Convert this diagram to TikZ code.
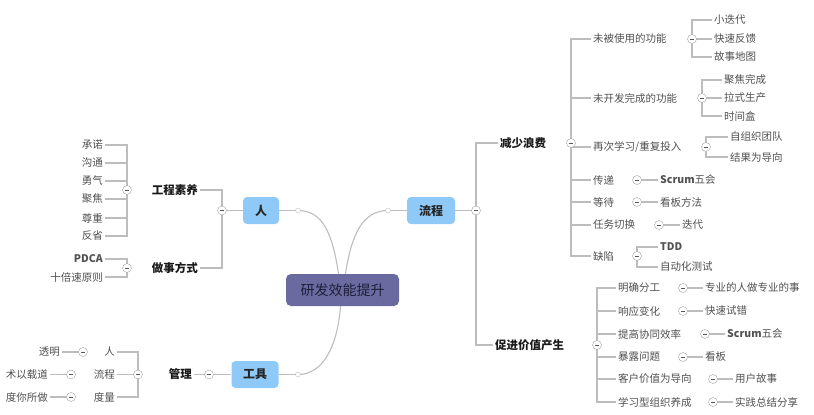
\documentclass[tikz,border=0pt]{standalone}
\usepackage{fontspec}
\setmainfont{Noto Sans CJK SC}
\pgfdeclarelayer{background}
\pgfsetlayers{background,main}
\definecolor{lg}{HTML}{BDBDBD}
\definecolor{leaftxt}{HTML}{505050}
\definecolor{boxblue}{HTML}{8FC9F7}
\definecolor{ctrpurple}{HTML}{6B6AA0}
\definecolor{ctrtxt}{HTML}{1E1E3A}
\definecolor{colgray}{HTML}{A0A0A0}
\begin{document}
\begin{tikzpicture}[x=1pt,y=-1pt,
  leaf/.style={font=\fontsize{10.5}{12}\selectfont, text=leaftxt, inner sep=2pt},
  lv/.style={font=\fontsize{11.5}{13}\selectfont\bfseries, text=black!90, inner sep=2pt},
  topic/.style={fill=boxblue, rounded corners=4pt, minimum height=27pt, inner sep=0pt,
    font=\fontsize{12}{14}\selectfont\bfseries, text=black!85},
  col/.style={circle, draw=colgray, fill=white, minimum size=9pt, inner sep=0pt,
    path picture={\draw[black!65, line width=0.8pt]
      ([xshift=-2.2pt]path picture bounding box.center) --
      ([xshift=2.2pt]path picture bounding box.center);}},
  dotc/.style={circle, draw=lg, fill=white, minimum size=5pt, inner sep=0pt},
  con/.style={draw=lg, line width=1.1pt}
]
\useasboundingbox (0,0) rectangle (814,415);

% central and main topics
\node[fill=ctrpurple, rounded corners=5pt, minimum width=113pt, minimum height=32pt,
  font=\fontsize{14}{16}\selectfont, text=ctrtxt] (ctr) at (342.5,290) {研发效能提升};
\node[topic, minimum width=36pt] (ren) at (261,210.5) {人};
\node[topic, minimum width=48pt] (liu) at (431,210.5) {流程};
\node[topic, minimum width=47pt] (gj) at (255,374.5) {工具};
\node[dotc] (dR) at (298,210.5) {};
\node[dotc] (dL) at (388,210.5) {};
\node[dotc] (dG) at (298,374.5) {};

% ===== 人 =====
\node[col] (renc) at (222,210.5) {};
\node[lv, anchor=east] (gcsy) at (200,190) {工程素养};
\node[lv, anchor=east] (zsfs) at (200,268) {做事方式};
\node[col] (gcsyc) at (127,190) {};
\node[leaf, anchor=east] (cn) at (105,145) {承诺};
\node[leaf, anchor=east] (gt) at (105,163) {沟通};
\node[leaf, anchor=east] (yq) at (105,181) {勇气};
\node[leaf, anchor=east] (jj) at (105,199) {聚焦};
\node[leaf, anchor=east] (zz) at (105,218) {尊重};
\node[leaf, anchor=east] (fx) at (105,236) {反省};
\node[col] (zsfsc) at (127,268) {};
\node[leaf, anchor=east] (pdca) at (105,259) {\bfseries PDCA};
\node[leaf, anchor=east] (sbs) at (105,277) {十倍速原则};

% ===== 工具 =====
\node[col] (gjc) at (209,374.5) {};
\node[lv, anchor=east] (gl) at (194,374.5) {管理};
\node[col] (glc) at (138,374.5) {};
\node[leaf, anchor=east] (gr) at (117,352) {人};
\node[leaf, anchor=east] (glc2) at (117,374.5) {流程};
\node[leaf, anchor=east] (gd) at (117,397) {度量};
\node[col] (grc) at (83,352) {};
\node[col] (glcc) at (71,374.5) {};
\node[col] (gdc) at (71,397) {};
\node[leaf, anchor=east] (tm) at (62,352) {透明};
\node[leaf, anchor=east] (sy) at (50,374.5) {术以载道};
\node[leaf, anchor=east] (dn) at (50,397) {度你所做};

% ===== 流程 =====
\node[col] (liuc) at (476,210.5) {};
\node[lv, anchor=west] (jslf) at (498,143) {减少浪费};
\node[lv, anchor=west] (cjjz) at (493,345) {促进价值产生};

% 减少浪费
\node[col] (jslfc) at (571,143) {};
\node[leaf, anchor=west] (a1) at (591,39) {未被使用的功能};
\node[leaf, anchor=west] (a2) at (591,98) {未开发完成的功能};
\node[leaf, anchor=west] (a3) at (591,147) {再次学习/重复投入};
\node[leaf, anchor=west] (a4) at (591,180) {传递};
\node[leaf, anchor=west] (a5) at (591,202) {等待};
\node[leaf, anchor=west] (a6) at (591,225) {任务切换};
\node[leaf, anchor=west] (a7) at (591,256) {缺陷};

\node[col] (a1c) at (692,39) {};
\node[leaf, anchor=west] (a11) at (712,20) {小迭代};
\node[leaf, anchor=west] (a12) at (712,39) {快速反馈};
\node[leaf, anchor=west] (a13) at (712,57) {故事地图};
\node[col] (a2c) at (702,98) {};
\node[leaf, anchor=west] (a21) at (722,80) {聚焦完成};
\node[leaf, anchor=west] (a22) at (722,98) {拉式生产};
\node[leaf, anchor=west] (a23) at (722,116) {时间盒};
\node[col] (a3c) at (706,147) {};
\node[leaf, anchor=west] (a31) at (728,137) {自组织团队};
\node[leaf, anchor=west] (a32) at (728,157) {结果为导向};
\node[col] (a4c) at (637,180) {};
\node[leaf, anchor=west] (a41) at (658,180) {{\bfseries Scrum}五会};
\node[col] (a5c) at (637,202) {};
\node[leaf, anchor=west] (a51) at (658,202) {看板方法};
\node[col] (a6c) at (659,225) {};
\node[leaf, anchor=west] (a61) at (680,225) {迭代};
\node[col] (a7c) at (637,256) {};
\node[leaf, anchor=west] (a71) at (658,247) {\bfseries TDD};
\node[leaf, anchor=west] (a72) at (658,267) {自动化测试};

% 促进价值产生
\node[col] (cjjzc) at (597,345) {};
\node[leaf, anchor=west] (b1) at (616,288) {明确分工};
\node[leaf, anchor=west] (b2) at (616,311) {响应变化};
\node[leaf, anchor=west] (b3) at (616,334) {提高协同效率};
\node[leaf, anchor=west] (b4) at (616,357) {暴露问题};
\node[leaf, anchor=west] (b5) at (616,379) {客户价值为导向};
\node[leaf, anchor=west] (b6) at (616,402) {学习型组织养成};
\node[col] (b1c) at (683,288) {};
\node[leaf, anchor=west] (b11) at (703,288) {专业的人做专业的事};
\node[col] (b2c) at (683,311) {};
\node[leaf, anchor=west] (b21) at (703,311) {快速试错};
\node[col] (b3c) at (705,334) {};
\node[leaf, anchor=west] (b31) at (725,334) {{\bfseries Scrum}五会};
\node[col] (b4c) at (683,357) {};
\node[leaf, anchor=west] (b41) at (703,357) {看板};
\node[col] (b5c) at (713,379) {};
\node[leaf, anchor=west] (b51) at (733,379) {用户故事};
\node[col] (b6c) at (713,402) {};
\node[leaf, anchor=west] (b61) at (733,402) {实践总结分享};

\begin{pgfonlayer}{background}
  % curves from centre
  \draw[con] ([xshift=-4pt]ctr.north) .. controls +(-6,-40) and +(25,0) .. (dR.center);
  \draw[con] ([xshift=3pt]ctr.north) .. controls +(6,-40) and +(-25,0) .. (dL.center);
  \draw[con] ([xshift=-2pt]ctr.south) .. controls +(-3,40) and +(25,0) .. (dG.center);
  \draw[con] (dR.center) -- (ren.east);
  \draw[con] (dL.center) -- (liu.west);
  \draw[con] (dG.center) -- (gj.east);
  % 人
  \draw[con] (ren.west) -- (renc.center);
  \foreach \t in {gcsy,zsfs} \draw[con] (renc.center) |- (\t.east);
  \foreach \t in {cn,gt,yq,jj,zz,fx} \draw[con] (gcsyc.center) |- (\t.east);
  \foreach \t in {pdca,sbs} \draw[con] (zsfsc.center) |- (\t.east);
  % 工具
  \draw[con] (gj.west) -- (gjc.center) -- (gl.east);
  \foreach \t in {gr,glc2,gd} \draw[con] (glc.center) |- (\t.east);
  \draw[con] (grc.center) -- (tm.east);
  \draw[con] (glcc.center) -- (sy.east);
  \draw[con] (gdc.center) -- (dn.east);
  % 流程
  \draw[con] (liu.east) -- (liuc.center);
  \foreach \t in {jslf,cjjz} \draw[con] (liuc.center) |- (\t.west);
  \foreach \t in {a1,a2,a3,a4,a5,a6,a7} \draw[con] (jslfc.center) |- (\t.west);
  \foreach \t in {a11,a12,a13} \draw[con] (a1c.center) |- (\t.west);
  \foreach \t in {a21,a22,a23} \draw[con] (a2c.center) |- (\t.west);
  \foreach \t in {a31,a32} \draw[con] (a3c.center) |- (\t.west);
  \draw[con] (a4c.center) -- (a41.west);
  \draw[con] (a5c.center) -- (a51.west);
  \draw[con] (a6c.center) -- (a61.west);
  \foreach \t in {a71,a72} \draw[con] (a7c.center) |- (\t.west);
  \foreach \t in {b1,b2,b3,b4,b5,b6} \draw[con] (cjjzc.center) |- (\t.west);
  \draw[con] (b1c.center) -- (b11.west);
  \draw[con] (b2c.center) -- (b21.west);
  \draw[con] (b3c.center) -- (b31.west);
  \draw[con] (b4c.center) -- (b41.west);
  \draw[con] (b5c.center) -- (b51.west);
  \draw[con] (b6c.center) -- (b61.west);
\end{pgfonlayer}
\end{tikzpicture}
\end{document}
